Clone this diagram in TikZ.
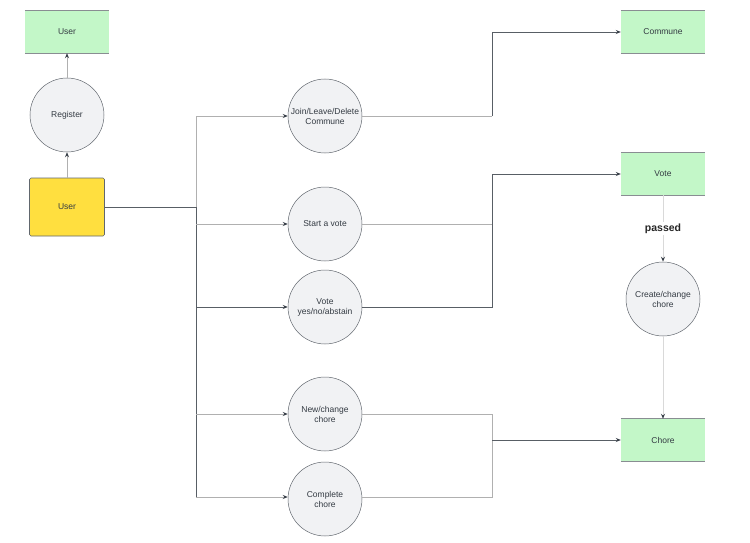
\documentclass[tikz,border=0pt]{standalone}
\usepackage{fontspec}
\setmainfont{Liberation Sans}
\usetikzlibrary{arrows.meta}
\definecolor{boxgreen}{HTML}{C3F7C8}
\definecolor{boxyellow}{HTML}{FFDF3F}
\definecolor{circfill}{HTML}{F1F2F4}
\definecolor{darkline}{HTML}{3A414A}
\definecolor{lightline}{HTML}{B0B0B0}
\definecolor{textcol}{HTML}{333A42}
\tikzset{
  x=1pt, y=-1pt,
  every node/.style={font=\fontsize{8.5}{10}\selectfont, text=textcol, align=center},
  greenbox/.style={rectangle, fill=boxgreen, minimum width=84pt, minimum height=42pt, inner sep=0pt},
  yellowbox/.style={rectangle, rounded corners=1.5pt, fill=boxyellow, draw=darkline!80, line width=0.6pt, minimum width=75pt, minimum height=58pt, inner sep=0pt},
  proc/.style={circle, fill=circfill, draw=darkline!80, line width=0.5pt, minimum size=74pt, inner sep=0pt},
  arr/.style={-{Stealth[length=5pt,width=4pt,color=darkline]}, line width=0.7pt},
  dk/.style={draw=darkline!85, line width=0.7pt},
  lt/.style={draw=lightline, line width=0.7pt},
  faint/.style={draw=black!15, line width=1pt},
}
\newcommand{\gedges}[1]{\draw[darkline!60, line width=0.8pt] (#1.north west) -- (#1.north east) (#1.south west) -- (#1.south east);}
\begin{document}
\begin{tikzpicture}
\useasboundingbox (0,0) rectangle (750,543);
% left column
\node[greenbox] (userTop) at (67,32) {User};
\gedges{userTop}
\node[proc] (register) at (67,115) {Register};
\node[yellowbox] (user) at (67,207) {User};
\draw[arr, lt] (user) -- (register);
\draw[arr, lt] (register) -- (userTop);
% middle circles
\node[proc] (join) at (325,116) {Join/Leave/Delete\\Commune};
\node[proc] (start) at (325,224) {Start a vote};
\node[proc] (voteyn) at (325,307) {Vote\\yes/no/abstain};
\node[proc] (newch) at (325,414) {New/change\\chore};
\node[proc] (complete) at (325,499) {Complete\\chore};
% right column
\node[greenbox] (commune) at (663,32) {Commune};
\gedges{commune}
\node[greenbox] (vote) at (663,174) {Vote};
\gedges{vote}
\node[proc] (create) at (663,299) {Create/change\\chore};
\node[greenbox] (chore) at (663,440) {Chore};
\gedges{chore}
% trunk
\coordinate (tj) at (196,207);
\draw[dk] (user.east) -- (tj);
\draw[lt] (tj) -- (196,116);
\draw[dk] (tj) -- (196,497);
\draw[arr, lt] (196,116) -- (join.west);
\draw[arr, lt] (196,224) -- (start.west);
\draw[arr, dk] (196,307) -- (voteyn.west);
\draw[arr, lt] (196,414) -- (newch.west);
\draw[arr, lt] (196,497) -- (complete.west |- 0,497);
% to Commune
\draw[lt] (join.east) -- (492,116);
\draw[arr, dk] (492,116) -- (492,32) -- (commune.west);
% to Vote
\draw[lt] (start.east) -- (492,224);
\draw[dk] (voteyn.east) -- (492,307) -- (492,224);
\draw[arr, dk] (492,224) -- (492,174) -- (vote.west);
% to Chore
\draw[lt] (newch.east) -- (492,414) -- (492,440);
\draw[lt] (complete.east |- 0,497) -- (492,497) -- (492,440);
\draw[arr, dk] (492,440) -- (chore.west);
% vote -> create -> chore
\draw[arr, faint] (vote.south) -- node[fill=white, inner sep=2pt, font=\fontsize{10.5}{12}\selectfont\bfseries, text=black!85] {passed} (create.north);
\draw[arr, faint] (create.south) -- (chore.north);
\end{tikzpicture}
\end{document}
